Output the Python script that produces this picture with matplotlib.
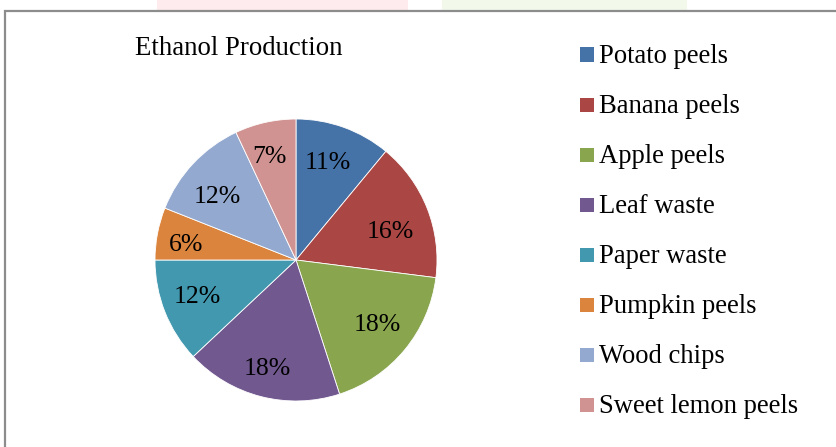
import matplotlib.pyplot as plt
from matplotlib.patches import Rectangle
import numpy as np

plt.rcParams['font.family'] = ['Liberation Serif', 'DejaVu Serif']

sources = ["Potato peels", "Banana peels", "Apple peels", "Leaf waste",
           "Paper waste", "Pumpkin peels", "Wood chips", "Sweet lemon peels"]
shares = [11, 16, 18, 18, 12, 6, 12, 7]
colors = ["#4572A7", "#AA4643", "#89A54E", "#71588F",
          "#4198AF", "#DB843D", "#93A9CF", "#D19392"]
# placement of each percent label: fraction of radius and angle nudge (deg)
label_r = [0.74, 0.70, 0.73, 0.785, 0.74, 0.79, 0.72, 0.77]
label_da = [1.8, -3.9, 1.7, -0.5, -2.0, 1.8, 3.6, 1.3]

W, H = 836, 447
fig = plt.figure(figsize=(W / 100, H / 100), dpi=100)

# faint page watermark above the chart frame
fig.patches.append(Rectangle((157 / W, 1 - 10 / H), 251 / W, 10 / H,
                             transform=fig.transFigure, facecolor="#fdebed", edgecolor="none"))
fig.patches.append(Rectangle((442 / W, 1 - 10 / H), 245 / W, 10 / H,
                             transform=fig.transFigure, facecolor="#f2f8ea", edgecolor="none"))

# chart border
fig.patches.append(Rectangle((5 / W, -0.01), 1.0, (H - 11) / H + 0.01,
                             transform=fig.transFigure, fill=False,
                             edgecolor="#8c8c8c", linewidth=1.6))

# pie area
ax = fig.add_axes([155 / W, 46 / H, 282 / W, 282 / H])
wedges, _, autotexts = ax.pie(shares, colors=colors, startangle=90, counterclock=False,
                              autopct="%d%%", pctdistance=0.72, radius=1.0,
                              wedgeprops=dict(edgecolor="white", linewidth=0.6),
                              textprops=dict(fontsize=18.5, color="black"))
for w, t, r, da in zip(wedges, autotexts, label_r, label_da):
    ang = np.deg2rad((w.theta1 + w.theta2) / 2 + da)
    t.set_position((r * np.cos(ang), r * np.sin(ang) - 0.015))
ax.set_xlim(-1, 1)
ax.set_ylim(-1, 1)
ax.set_aspect("equal")
ax.axis("off")

fig.text(238.5 / W, 1 - 55 / H, "Ethanol Production", ha="center", va="baseline", fontsize=19.3)

# legend
for i, (name, col) in enumerate(zip(sources, colors)):
    yc = 54.5 + i * 50.07
    fig.patches.append(Rectangle((580 / W, 1 - (yc + 7) / H), 14 / W, 14 / H,
                                 transform=fig.transFigure, facecolor=col, edgecolor="none"))
    fig.text(599 / W, 1 - (yc + 8.5) / H, name, ha="left", va="baseline", fontsize=19.2)

fig.savefig("out.png", dpi=100)
